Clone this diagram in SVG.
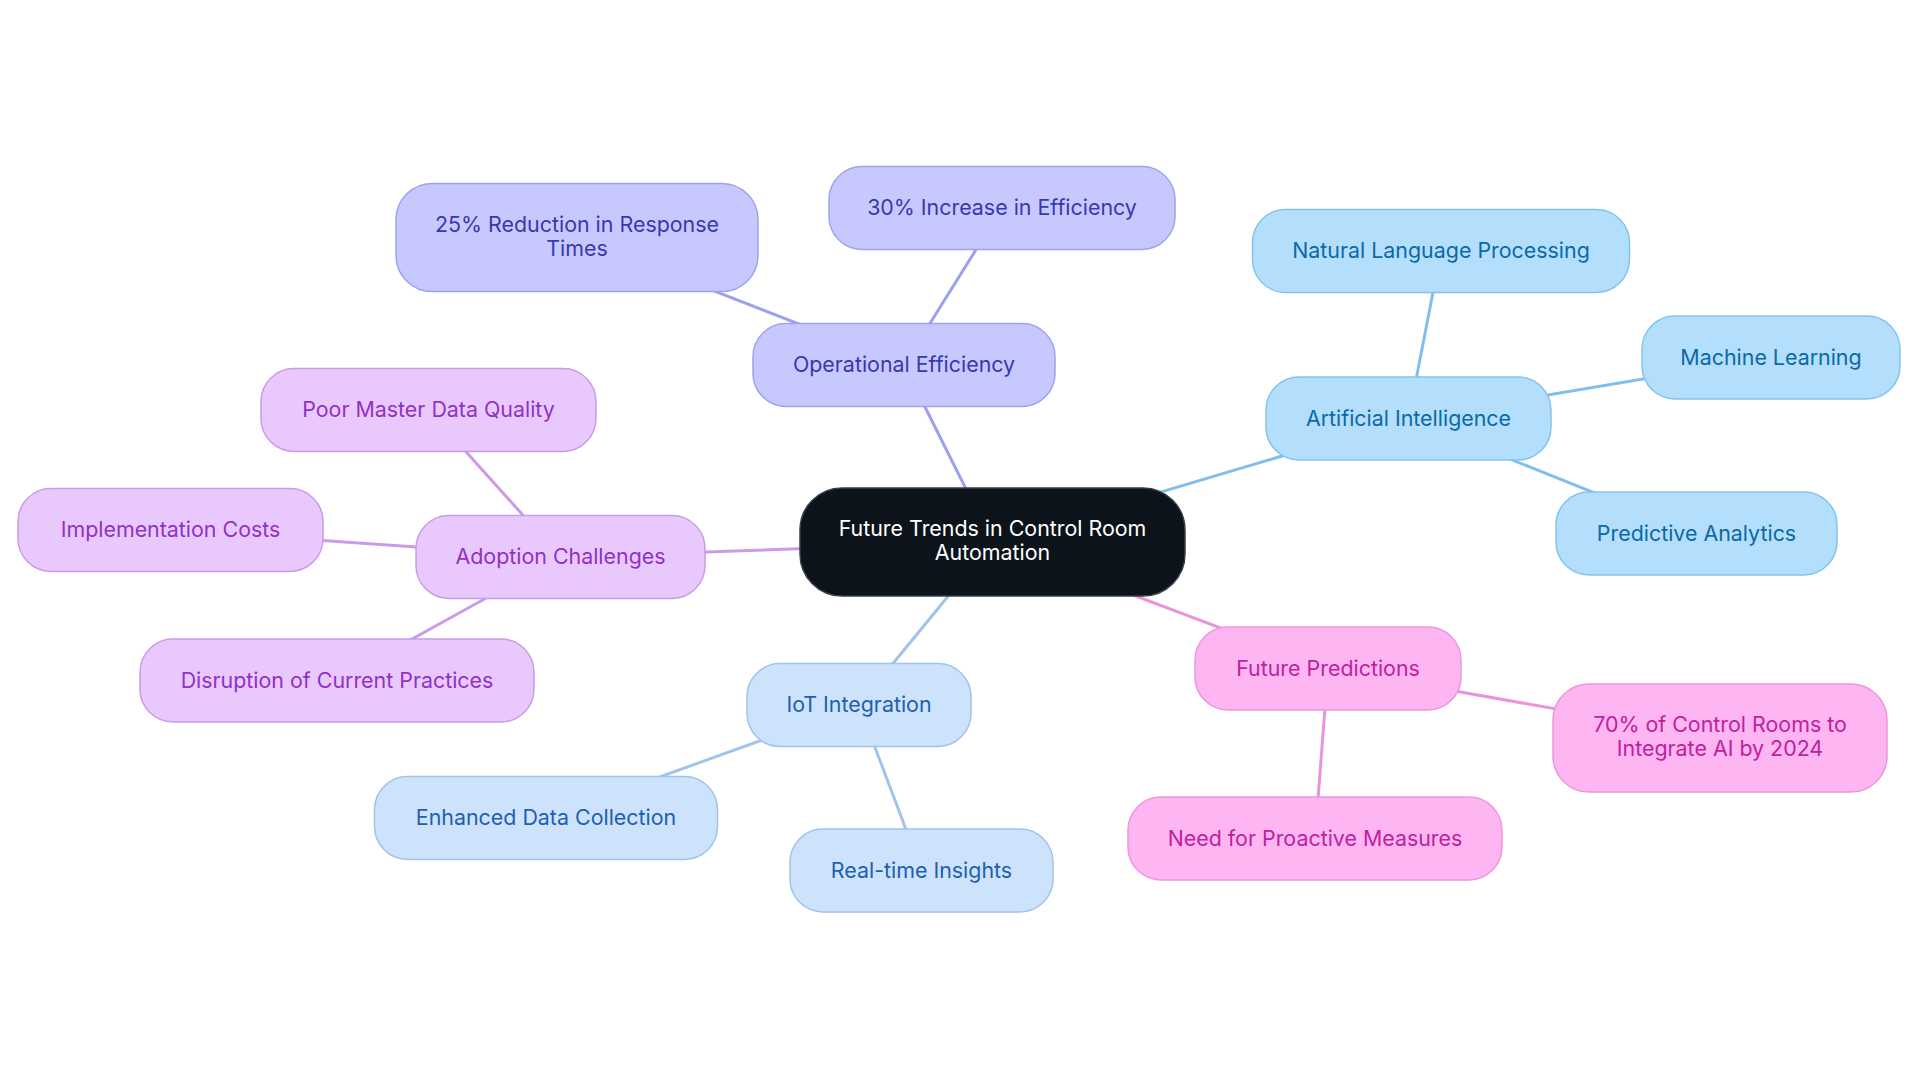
<svg xmlns="http://www.w3.org/2000/svg" width="1920" height="1083" viewBox="0 0 1920 1083">
<style>
text{font-family:Inter,"Noto Sans","Liberation Sans",sans-serif;font-size:21.4px;font-weight:400;text-anchor:middle}
.edge{stroke-width:3;fill:none;stroke-linecap:round}
.c0 rect{fill:#0c131a;stroke:#3a3f45;stroke-width:1.5}.c0 text{fill:#ffffff}
.op rect{fill:#c7c9fe;stroke:#9fa3ec;stroke-width:1.5}.op text{fill:#3a37b0}
.ai rect{fill:#b3defc;stroke:#85c3ec;stroke-width:1.5}.ai text{fill:#0b69a8}
.ad rect{fill:#e9c9fd;stroke:#c99be9;stroke-width:1.5}.ad text{fill:#9031c7}
.io rect{fill:#cde3fc;stroke:#9fc3ea;stroke-width:1.5}.io text{fill:#1e5fb2}
.fp rect{fill:#fdb6f2;stroke:#ec97dd;stroke-width:1.5}.fp text{fill:#c1209f}
.e-op{stroke:#9da1ea}.e-ai{stroke:#80bfe9}.e-ad{stroke:#c99be8}.e-io{stroke:#a1c4ea}.e-fp{stroke:#eb93da}
</style>
<rect width="1920" height="1083" fill="#ffffff"/>
<g id="connectors">
<line class="edge e-op" x1="992.5" y1="542" x2="904" y2="365"/>
<line class="edge e-op" x1="904" y1="365" x2="577" y2="237.5"/>
<line class="edge e-op" x1="904" y1="365" x2="1002" y2="208"/>
<line class="edge e-ai" x1="992.5" y1="542" x2="1408.5" y2="418.5"/>
<line class="edge e-ai" x1="1408.5" y1="418.5" x2="1441" y2="251"/>
<line class="edge e-ai" x1="1408.5" y1="418.5" x2="1771" y2="357.5"/>
<line class="edge e-ai" x1="1408.5" y1="418.5" x2="1696.5" y2="533.7"/>
<line class="edge e-ad" x1="992.5" y1="542" x2="560.5" y2="557"/>
<line class="edge e-ad" x1="560.5" y1="557" x2="428.5" y2="410"/>
<line class="edge e-ad" x1="560.5" y1="557" x2="170.5" y2="530"/>
<line class="edge e-ad" x1="560.5" y1="557" x2="337" y2="680.5"/>
<line class="edge e-io" x1="992.5" y1="542" x2="859" y2="705"/>
<line class="edge e-io" x1="859" y1="705" x2="546" y2="818"/>
<line class="edge e-io" x1="859" y1="705" x2="921.5" y2="870.5"/>
<line class="edge e-fp" x1="992.5" y1="542" x2="1328" y2="668.5"/>
<line class="edge e-fp" x1="1328" y1="668.5" x2="1720" y2="738"/>
<line class="edge e-fp" x1="1328" y1="668.5" x2="1315" y2="838.5"/>
</g>
<g id="root" class="c0"><rect x="800" y="488" width="385" height="108" rx="42"/><text x="992.5" y="536">Future Trends in Control Room</text><text x="992.5" y="560">Automation</text></g>
<g id="op" class="op"><rect x="753" y="323.5" width="302" height="83" rx="33"/><text x="904" y="372">Operational Efficiency</text></g>
<g id="op1" class="op"><rect x="396" y="183.5" width="362" height="108" rx="36"/><text x="577" y="231.5">25% Reduction in Response</text><text x="577" y="255.5">Times</text></g>
<g id="op2" class="op"><rect x="829" y="166.5" width="346" height="83" rx="33"/><text x="1002" y="215">30% Increase in Efficiency</text></g>
<g id="ai" class="ai"><rect x="1266" y="377" width="285" height="83" rx="33"/><text x="1408.5" y="425.5">Artificial Intelligence</text></g>
<g id="ai1" class="ai"><rect x="1252.5" y="209.5" width="377" height="83" rx="33"/><text x="1441" y="258">Natural Language Processing</text></g>
<g id="ai2" class="ai"><rect x="1642" y="316" width="258" height="83" rx="33"/><text x="1771" y="364.5">Machine Learning</text></g>
<g id="ai3" class="ai"><rect x="1556" y="492" width="281" height="83" rx="33"/><text x="1696.5" y="540.5">Predictive Analytics</text></g>
<g id="ad" class="ad"><rect x="416" y="515.5" width="289" height="83" rx="33"/><text x="560.5" y="564">Adoption Challenges</text></g>
<g id="ad1" class="ad"><rect x="261" y="368.5" width="335" height="83" rx="33"/><text x="428.5" y="417">Poor Master Data Quality</text></g>
<g id="ad2" class="ad"><rect x="18" y="488.5" width="305" height="83" rx="33"/><text x="170.5" y="537">Implementation Costs</text></g>
<g id="ad3" class="ad"><rect x="140" y="639" width="394" height="83" rx="33"/><text x="337" y="687.5">Disruption of Current Practices</text></g>
<g id="io" class="io"><rect x="747" y="663.5" width="224" height="83" rx="33"/><text x="859" y="712">IoT Integration</text></g>
<g id="io1" class="io"><rect x="374.5" y="776.5" width="343" height="83" rx="33"/><text x="546" y="825">Enhanced Data Collection</text></g>
<g id="io2" class="io"><rect x="790" y="829" width="263" height="83" rx="33"/><text x="921.5" y="877.5">Real-time Insights</text></g>
<g id="fp" class="fp"><rect x="1195" y="627" width="266" height="83" rx="33"/><text x="1328" y="675.5">Future Predictions</text></g>
<g id="fp1" class="fp"><rect x="1553" y="684" width="334" height="108" rx="36"/><text x="1720" y="732">70% of Control Rooms to</text><text x="1720" y="756">Integrate AI by 2024</text></g>
<g id="fp2" class="fp"><rect x="1128" y="797" width="374" height="83" rx="33"/><text x="1315" y="845.5">Need for Proactive Measures</text></g>
</svg>
